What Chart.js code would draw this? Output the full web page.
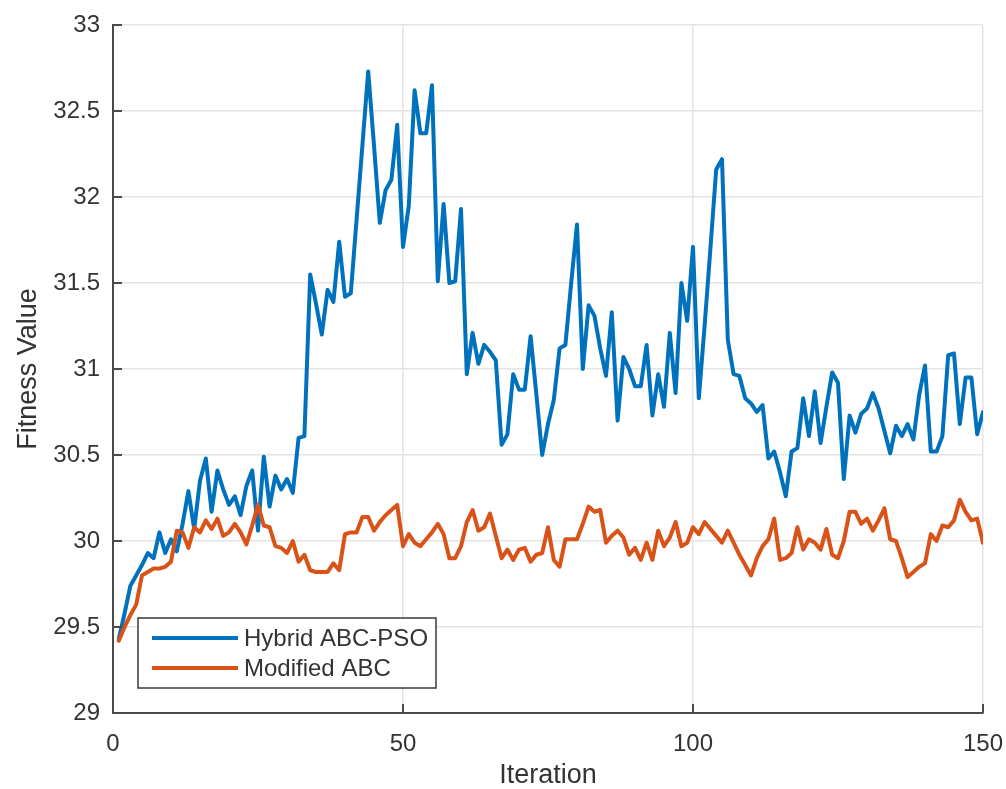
<!DOCTYPE html>
<html><head><meta charset="utf-8">
<script src="https://cdn.jsdelivr.net/npm/chart.js@4.4.1/dist/chart.umd.min.js"></script>
<style>html,body{margin:0;padding:0;background:#fff;overflow:hidden}#wrap{width:1006px;height:789px;position:relative}</style>
</head><body><div id="wrap"><canvas id="c"></canvas></div>
<script>
const seriesNames = ['Hybrid ABC-PSO', 'Modified ABC'];
const iterations = Array.from({length: 150}, (_, i) => i + 1);
const hybridABCPSO = [
29.43, 29.58, 29.74, 29.80, 29.86, 29.93, 29.90, 30.05, 29.93, 30.01,
29.94, 30.10, 30.29, 30.07, 30.35, 30.48, 30.17, 30.41, 30.30, 30.21,
30.26, 30.15, 30.32, 30.41, 30.06, 30.49, 30.20, 30.38, 30.30, 30.36,
30.28, 30.60, 30.61, 31.55, 31.38, 31.20, 31.46, 31.39, 31.74, 31.42,
31.44, 31.87, 32.30, 32.73, 32.30, 31.85, 32.04, 32.10, 32.42, 31.71,
31.95, 32.62, 32.37, 32.37, 32.65, 31.51, 31.96, 31.50, 31.51, 31.93,
30.97, 31.21, 31.03, 31.14, 31.10, 31.05, 30.56, 30.62, 30.97, 30.88,
30.88, 31.19, 30.85, 30.50, 30.68, 30.82, 31.12, 31.14, 31.50, 31.84,
31.00, 31.37, 31.31, 31.12, 30.96, 31.33, 30.70, 31.07, 31.00, 30.90,
30.90, 31.14, 30.73, 30.97, 30.78, 31.21, 30.86, 31.50, 31.28, 31.71,
30.83, 31.25, 31.70, 32.16, 32.22, 31.17, 30.97, 30.96, 30.83, 30.80,
30.75, 30.79, 30.48, 30.52, 30.40, 30.26, 30.52, 30.54, 30.83, 30.61,
30.87, 30.57, 30.78, 30.98, 30.92, 30.36, 30.73, 30.63, 30.74, 30.77,
30.86, 30.77, 30.64, 30.51, 30.67, 30.61, 30.68, 30.59, 30.85, 31.02,
30.52, 30.52, 30.61, 31.08, 31.09, 30.68, 30.95, 30.95, 30.62, 30.75
];
const modifiedABC = [
29.42, 29.50, 29.57, 29.63, 29.80, 29.82, 29.84, 29.84, 29.85, 29.88,
30.06, 30.05, 29.96, 30.08, 30.05, 30.12, 30.07, 30.13, 30.03, 30.05,
30.10, 30.05, 29.98, 30.09, 30.21, 30.09, 30.08, 29.97, 29.96, 29.93,
30.00, 29.88, 29.92, 29.83, 29.82, 29.82, 29.82, 29.87, 29.83, 30.04,
30.05, 30.05, 30.14, 30.14, 30.06, 30.11, 30.15, 30.18, 30.21, 29.97,
30.04, 29.99, 29.97, 30.01, 30.05, 30.10, 30.04, 29.90, 29.90, 29.97,
30.11, 30.18, 30.06, 30.08, 30.16, 30.03, 29.90, 29.95, 29.89, 29.95,
29.96, 29.88, 29.92, 29.93, 30.08, 29.89, 29.85, 30.01, 30.01, 30.01,
30.10, 30.20, 30.17, 30.18, 29.99, 30.03, 30.06, 30.02, 29.92, 29.96,
29.89, 29.99, 29.89, 30.06, 29.97, 30.02, 30.11, 29.97, 29.99, 30.08,
30.04, 30.11, 30.07, 30.03, 29.99, 30.06, 29.99, 29.92, 29.86, 29.80,
29.90, 29.97, 30.01, 30.13, 29.89, 29.90, 29.93, 30.08, 29.95, 30.01,
29.99, 29.95, 30.07, 29.92, 29.90, 30.00, 30.17, 30.17, 30.10, 30.13,
30.06, 30.12, 30.19, 30.01, 30.00, 29.90, 29.79, 29.82, 29.85, 29.87,
30.04, 30.00, 30.09, 30.08, 30.12, 30.24, 30.17, 30.12, 30.13, 29.99
];
const xTickStep = 50, xMin = 0, xMax = 150;
const yTickStep = 0.5, yMin = 29, yMax = 33;
const xTitle = 'Iteration', yTitle = 'Fitness Value';

const FONT = "'Liberation Sans', Arial, Helvetica, sans-serif";
const AXIS = '#4a4a4a', TEXT = '#333333', GRID = '#e4e4e4';
const COLORS = ['#0072BD', '#D95319'];

const extras = {
  id: 'extras',
  afterDatasetsDraw(chart) {
    const {ctx, chartArea: a, scales: {x, y}} = chart;
    ctx.save();
    ctx.strokeStyle = AXIS; ctx.lineWidth = 2;
    ctx.beginPath();
    y.ticks.forEach(t => { const p = y.getPixelForValue(t.value); ctx.moveTo(a.left, p); ctx.lineTo(a.left + 9, p); });
    x.ticks.forEach(t => { const p = x.getPixelForValue(t.value); ctx.moveTo(p, a.bottom); ctx.lineTo(p, a.bottom - 9); });
    ctx.stroke();
    // legend
    const bx = a.left + 25, by = a.bottom - 95, bw = 298, bh = 70;
    ctx.fillStyle = '#fff'; ctx.fillRect(bx, by, bw, bh);
    ctx.strokeStyle = '#3a3a3a'; ctx.lineWidth = 1.5; ctx.strokeRect(bx, by, bw, bh);
    ctx.font = '24px ' + FONT; ctx.textBaseline = 'middle'; ctx.textAlign = 'left';
    chart.data.datasets.forEach((ds, i) => {
      const ly = by + 20 + i * 30;
      ctx.strokeStyle = ds.borderColor; ctx.lineWidth = 4;
      ctx.beginPath(); ctx.moveTo(bx + 14, ly); ctx.lineTo(bx + 100, ly); ctx.stroke();
      ctx.fillStyle = TEXT; ctx.fillText(ds.label, bx + 106, ly + 1);
    });
    ctx.restore();
  }
};

const mk = (vals) => vals.map((v, i) => ({x: iterations[i], y: v}));
new Chart(document.getElementById('c'), {
  type: 'line',
  data: {
    datasets: [
      {label: seriesNames[0], data: mk(hybridABCPSO), borderColor: COLORS[0], borderWidth: 4, borderJoinStyle: 'round', borderCapStyle: 'round', pointRadius: 0, tension: 0, order: 1},
      {label: seriesNames[1], data: mk(modifiedABC), borderColor: COLORS[1], borderWidth: 4, borderJoinStyle: 'round', borderCapStyle: 'round', pointRadius: 0, tension: 0, order: 0}
    ]
  },
  options: {
    responsive: true, maintainAspectRatio: false, animation: false, devicePixelRatio: 1,
    layout: {padding: {top: 25, right: 23, bottom: 0, left: 0}},
    plugins: {legend: {display: false}, tooltip: {enabled: false}},
    scales: {
      x: {
        type: 'linear', min: xMin, max: xMax,
        afterFit(s) { s.height = 76; s.paddingLeft = 0; s.paddingRight = 0; },
        grid: {color: GRID, lineWidth: 1.5, drawTicks: false},
        border: {display: true, color: AXIS, width: 2},
        ticks: {stepSize: xTickStep, padding: 17, color: TEXT, font: {family: FONT, size: 24}, maxRotation: 0},
        title: {display: true, text: xTitle, color: TEXT, font: {family: FONT, size: 27, lineHeight: 1.0}, padding: {top: 0, bottom: 0}}
      },
      y: {
        min: yMin, max: yMax,
        afterFit(s) { s.width = 113; s.paddingTop = 0; s.paddingBottom = 0; },
        grid: {color: GRID, lineWidth: 1.5, drawTicks: false},
        border: {display: true, color: AXIS, width: 2},
        ticks: {stepSize: yTickStep, padding: 13, color: TEXT, font: {family: FONT, size: 24},
          callback: (v) => String(Math.round(v * 10) / 10)},
        title: {display: true, text: yTitle, color: TEXT, font: {family: FONT, size: 27}, padding: {top: 12, bottom: 0}}
      }
    }
  },
  plugins: [extras]
});
</script></body></html>
